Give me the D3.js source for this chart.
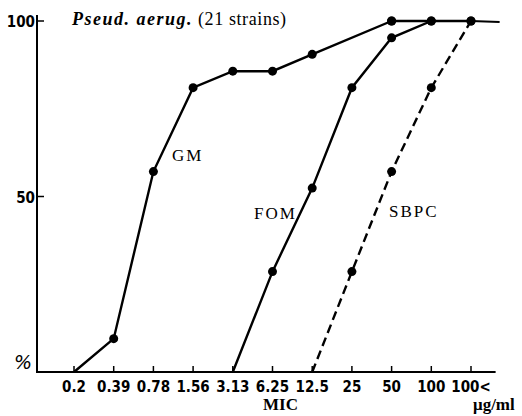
<!DOCTYPE html>
<html>
<head>
<meta charset="utf-8">
<script src="https://cdn.jsdelivr.net/npm/d3@7"></script>
<style>
  body { margin: 0; background: #fff; }
  svg { display: block; }
</style>
</head>
<body>
<div id="chart"></div>
<script>
'use strict';

// MIC categories (x axis tick labels)
const categories = ['0.2', '0.39', '0.78', '1.56', '3.13', '6.25', '12.5', '25', '50', '100', '100<'];
const yTicks = [50, 100];

// Cumulative % of strains inhibited
const gmValues = [
  { mic: '0.2', v: 0, dot: false },
  { mic: '0.39', v: 9.5 },
  { mic: '0.78', v: 57.1 },
  { mic: '1.56', v: 81 },
  { mic: '3.13', v: 85.7 },
  { mic: '6.25', v: 85.7 },
  { mic: '12.5', v: 90.5 },
  { mic: '50', v: 100 }
];
const fomValues = [
  { mic: '3.13', v: 0, dot: false },
  { mic: '6.25', v: 28.6 },
  { mic: '12.5', v: 52.4 },
  { mic: '25', v: 81 },
  { mic: '50', v: 95.2 },
  { mic: '100', v: 100 }
];
const sbpcValues = [
  { mic: '12.5', v: 0, dot: false },
  { mic: '25', v: 28.6 },
  { mic: '50', v: 57.1 },
  { mic: '100', v: 81 },
  { mic: '100<', v: 100 }
];
const plateau = [
  { mic: '50', v: 100 },
  { mic: '100', v: 100 },
  { mic: '100<', v: 100 }
];

const width = 522, height = 416;
const serif = '"Liberation Serif", "DejaVu Serif", serif';
const narrow = '"Liberation Sans Narrow", "DejaVu Sans Condensed", sans-serif';

const svg = d3.select('#chart').append('svg')
  .attr('width', width)
  .attr('height', height);

// Scales
const x = d3.scalePoint().domain(categories).range([74, 471]);
const y = d3.scaleLinear().domain([0, 100]).range([372, 21]);
const axisX = 37;
const axisEnd = x('100<') + x.step() * 0.62;

// Y axis line + inward ticks
svg.append('line')
  .attr('x1', axisX).attr('x2', axisX)
  .attr('y1', y(100) - 6).attr('y2', y(0))
  .attr('stroke', '#000').attr('stroke-width', 2);
svg.selectAll('.ytick')
  .data(yTicks)
  .enter().append('line')
  .attr('x1', axisX).attr('x2', axisX + 7)
  .attr('y1', d => y(d)).attr('y2', d => y(d))
  .attr('stroke', '#000').attr('stroke-width', 1.5);
svg.selectAll('.ylabel')
  .data(yTicks)
  .enter().append('text')
  .attr('x', axisX - 2)
  .attr('y', d => y(d) + 6)
  .attr('text-anchor', 'end')
  .style('font-family', narrow)
  .style('font-size', '15px')
  .style('font-weight', 'bold')
  .text(d => d);
svg.append('text')
  .attr('x', 14)
  .attr('y', y(0) - 3)
  .style('font-family', '"DejaVu Sans", sans-serif')
  .style('font-style', 'italic')
  .style('font-size', '19px')
  .text('%');

// X axis line + upward ticks
svg.append('line')
  .attr('x1', axisX - 1).attr('x2', axisEnd)
  .attr('y1', y(0)).attr('y2', y(0))
  .attr('stroke', '#000').attr('stroke-width', 2);
svg.selectAll('.xtick')
  .data(categories)
  .enter().append('line')
  .attr('x1', d => x(d)).attr('x2', d => x(d))
  .attr('y1', y(0)).attr('y2', y(0) - 6)
  .attr('stroke', '#000').attr('stroke-width', 1.5);
svg.selectAll('.xlabel')
  .data(categories)
  .enter().append('text')
  .attr('x', d => x(d))
  .attr('y', y(0) + 20)
  .attr('text-anchor', 'middle')
  .style('font-family', narrow)
  .style('font-size', '15px')
  .style('font-weight', 'bold')
  .text(d => d);

svg.append('text')
  .attr('x', 263).attr('y', 410)
  .style('font-family', serif)
  .style('font-size', '17px')
  .style('font-weight', 'bold')
  .text('MIC');
svg.append('text')
  .attr('x', 473).attr('y', 410)
  .style('font-family', serif)
  .style('font-size', '17px')
  .style('font-weight', 'bold')
  .text('\u03BCg/ml');

// Title
const title = svg.append('text')
  .attr('x', 72).attr('y', 25)
  .style('font-family', serif)
  .style('font-size', '18px');
title.append('tspan')
  .style('font-style', 'italic')
  .style('font-weight', 'bold')
  .style('letter-spacing', '1.5px')
  .text('Pseud. aerug.');
title.append('tspan')
  .attr('dx', 5)
  .style('letter-spacing', '0.6px')
  .text('(21 strains)');

// Lines
const line = d3.line()
  .x(d => x(d.mic))
  .y(d => y(d.v));

function appendSeries(data, dashed) {
  svg.append('path')
    .datum(data)
    .attr('d', line)
    .attr('fill', 'none')
    .attr('stroke', '#000')
    .attr('stroke-width', 2.4)
    .attr('stroke-dasharray', dashed ? '9,5' : null);
  svg.selectAll(null)
    .data(data.filter(d => d.dot !== false))
    .enter().append('circle')
    .attr('cx', d => x(d.mic))
    .attr('cy', d => y(d.v))
    .attr('r', 4.5)
    .attr('fill', '#000');
}

appendSeries(gmValues, false);
appendSeries(fomValues, false);
appendSeries(sbpcValues, true);
appendSeries(plateau, false);

// plateau tail past the last category
svg.append('line')
  .attr('x1', x('100<')).attr('x2', axisEnd + 4)
  .attr('y1', y(100)).attr('y2', y(100) + 1)
  .attr('stroke', '#000').attr('stroke-width', 2);

// Series labels
const labels = [
  { text: 'GM', x: 172, y: 161 },
  { text: 'FOM', x: 254, y: 219 },
  { text: 'SBPC', x: 389, y: 217 }
];
svg.selectAll('.slabel')
  .data(labels)
  .enter().append('text')
  .attr('x', d => d.x).attr('y', d => d.y)
  .style('font-family', serif)
  .style('font-size', '17px')
  .style('letter-spacing', '2px')
  .text(d => d.text);
</script>
</body>
</html>
